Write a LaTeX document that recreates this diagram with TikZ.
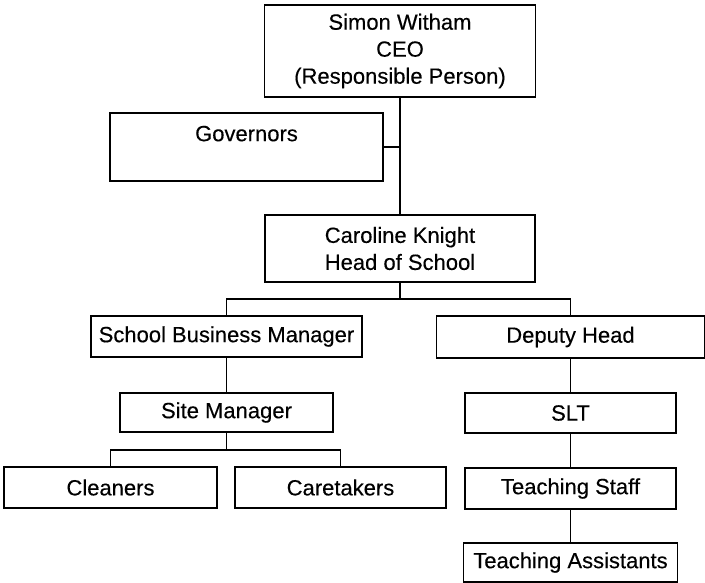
\documentclass[tikz,border=0pt]{standalone}
\usepackage{fontspec}
\setmainfont{Liberation Sans}
\newfontfamily\boxfont{Liberation Sans}[FakeBold=0.3]
\begin{document}
\begin{tikzpicture}[x=1pt,y=-1pt,
  box/.style={draw=black, line width=1.5pt, inner sep=0pt, align=center,
    font=\fontsize{22}{27}\boxfont, anchor=center},
  link/.style={draw=black, line width=1.7pt}]
\useasboundingbox (0,0) rectangle (705,583);
\node[box, minimum width=271pt, minimum height=92pt] (ceo) at (400,51) {Simon Witham\\CEO\\(Responsible Person)};
\node[box, minimum width=273pt, minimum height=68pt] (gov) at (246.5,147) {Governors\\\mbox{}};
\node[box, minimum width=270pt, minimum height=67pt] (head) at (400,248.5) {Caroline Knight\\Head of School};
\node[box, minimum width=271pt, minimum height=41pt] (sbm) at (226.5,336.5) {School Business Manager};
\node[box, minimum width=268pt, minimum height=42pt] (dep) at (570.5,337) {Deputy Head};
\node[box, minimum width=213pt, minimum height=39pt] (site) at (226.5,412.5) {Site Manager};
\node[box, minimum width=211pt, minimum height=40pt] (slt) at (570.5,413) {SLT};
\node[box, minimum width=213pt, minimum height=41pt] (clean) at (110.5,487.5) {Cleaners};
\node[box, minimum width=211pt, minimum height=41pt] (care) at (340.5,487.5) {Caretakers};
\node[box, minimum width=211pt, minimum height=41pt] (staff) at (570.5,488.5) {Teaching Staff};
\node[box, minimum width=214pt, minimum height=39pt] (ta) at (570.5,562.5) {Teaching Assistants};
\coordinate (j1) at (400,299);
\coordinate (j2) at (226.5,450);
% CEO to Head
\draw[link] (ceo.south) -- (head.north);
\draw[link] (gov.east) -- (gov.east -| ceo.south);
% Head to second level
\draw[link] (head.south) -- (j1);
\draw[link] (sbm.north) |- (j1) -| (dep.north);
% SBM branch
\draw[link] (sbm.south) -- (site.north);
\draw[link] (site.south) -- (j2);
\draw[link] (clean.north) |- (j2) -| (care.north);
% Deputy branch
\draw[link] (dep.south) -- (slt.north);
\draw[link] (slt.south) -- (staff.north);
\draw[link] (staff.south) -- (ta.north);
\end{tikzpicture}
\end{document}
